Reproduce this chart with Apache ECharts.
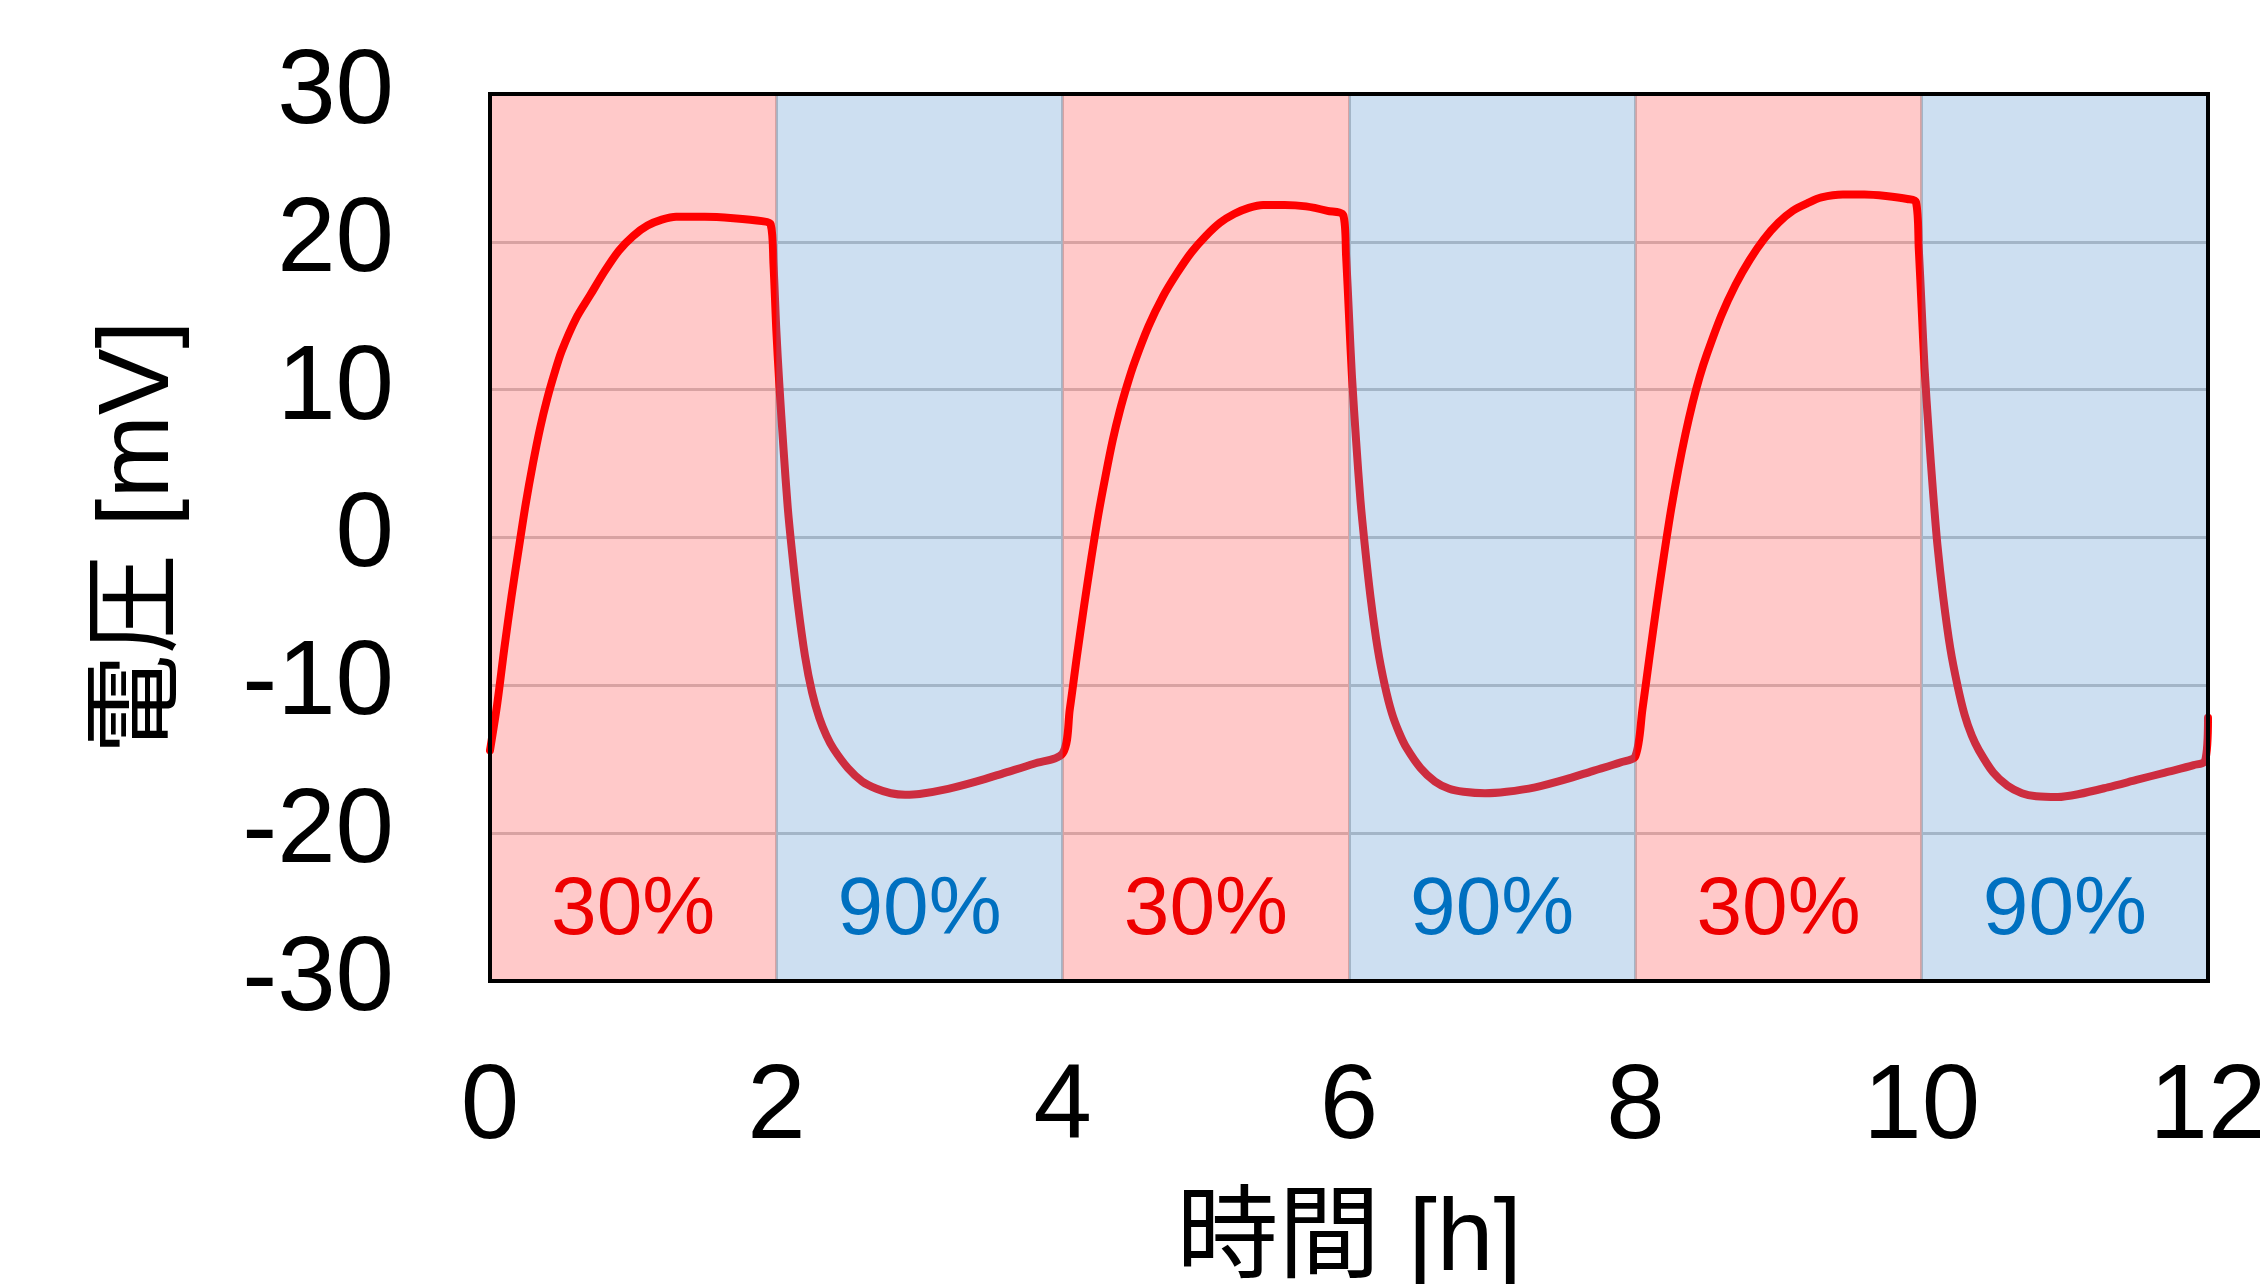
<!DOCTYPE html>
<html>
<head>
<meta charset="utf-8">
<script src="https://cdn.jsdelivr.net/npm/echarts@6/dist/echarts.min.js"></script>
<style>
html,body{margin:0;padding:0;background:#fff;}
#chart{width:2260px;height:1284px;}
</style>
</head>
<body>
<div id="chart"></div>
<script>
// ---- data ----
const timeH = [
  0, 0.05, 0.1, 0.15, 0.2, 0.25, 0.3, 0.35, 0.4, 0.45, 0.5, 0.6, 0.7, 0.8, 0.9, 1.0, 1.1, 1.2, 1.3, 1.5, 1.7, 1.9, 1.96,
  1.98, 2.0, 2.02, 2.05, 2.08, 2.11, 2.15, 2.2, 2.25, 2.3, 2.35, 2.4, 2.5, 2.6, 2.7, 2.8, 2.9, 3.0, 3.2, 3.4, 3.6, 3.8,
  4.0, 4.05, 4.1, 4.15, 4.2, 4.25, 4.3, 4.35, 4.4, 4.45, 4.5, 4.6, 4.7, 4.8, 4.9, 5.0, 5.1, 5.2, 5.3, 5.4, 5.55, 5.7, 5.85, 5.96,
  5.98, 6.0, 6.02, 6.05, 6.08, 6.11, 6.15, 6.2, 6.25, 6.3, 6.35, 6.4, 6.5, 6.6, 6.7, 6.8, 6.95, 7.1, 7.3, 7.5, 7.7, 7.9,
  8.0, 8.05, 8.1, 8.15, 8.2, 8.25, 8.3, 8.35, 8.4, 8.45, 8.5, 8.6, 8.7, 8.8, 8.9, 9.0, 9.1, 9.2, 9.3, 9.45, 9.6, 9.75, 9.9, 9.96,
  9.98, 10.0, 10.02, 10.05, 10.08, 10.11, 10.15, 10.2, 10.25, 10.3, 10.35, 10.4, 10.5, 10.6, 10.7, 10.8, 10.95, 11.1, 11.3, 11.5, 11.7, 11.9, 11.98, 12.0
];
const voltage = [
  -14.4, -11.3, -7.5, -4.0, -0.8, 2.3, 5.0, 7.4, 9.4, 11.1, 12.6, 14.8, 16.4, 18.0, 19.4, 20.4, 21.1, 21.5, 21.7, 21.7, 21.6, 21.4, 21.2,
  18.5, 14.0, 10.5, 6.0, 2.0, -1.0, -4.5, -8.0, -10.5, -12.2, -13.4, -14.3, -15.6, -16.5, -17.0, -17.3, -17.4, -17.35, -17.0, -16.5, -15.9, -15.3,
  -14.6, -11.6, -8.0, -4.6, -1.4, 1.6, 4.2, 6.6, 8.6, 10.3, 11.8, 14.3, 16.3, 17.9, 19.3, 20.4, 21.3, 21.9, 22.3, 22.5, 22.5, 22.4, 22.1, 21.8,
  19.0, 15.0, 11.0, 6.5, 2.5, -0.5, -4.0, -7.5, -10.0, -11.9, -13.2, -14.2, -15.6, -16.5, -17.0, -17.2, -17.3, -17.2, -16.9, -16.4, -15.8, -15.2,
  -14.8, -11.6, -8.0, -4.5, -1.2, 1.9, 4.6, 7.0, 9.1, 10.9, 12.4, 15.0, 17.1, 18.8, 20.2, 21.3, 22.1, 22.6, 23.0, 23.2, 23.2, 23.1, 22.9, 22.7,
  19.5, 15.5, 11.5, 7.0, 3.0, -0.5, -4.0, -7.5, -10.0, -12.0, -13.4, -14.4, -15.9, -16.8, -17.3, -17.5, -17.55, -17.35, -16.9, -16.4, -15.9, -15.4, -15.1, -12.2
];
const bandStart = [0, 2, 4, 6, 8, 10];
const bandEnd = [2, 4, 6, 8, 10, 12];
const bandLabels = ['30%', '90%', '30%', '90%', '30%', '90%'];
const bandLabelY = -25.3;
const xTicks = [0, 2, 4, 6, 8, 10, 12];
const yTicks = [-30, -20, -10, 0, 10, 20, 30];

// ---- styles ----
const LATIN = '"Liberation Sans", Arial, "Noto Sans CJK JP", sans-serif';
const pinkFill = 'rgba(255,100,100,0.35)';
const blueFill = 'rgba(90,150,210,0.30)';
const pinkText = '#EE0000';
const blueText = '#0070C0';

const linePairs = timeH.map((t, i) => [t, voltage[i]]);
const pinkData = [], blueData = [];
bandStart.forEach((s, i) => {
  const row = [s, bandEnd[i], i];
  if (bandLabels[i] === '30%') pinkData.push(row); else blueData.push(row);
});

function bandRenderer(fill, textColor) {
  return function (params, api) {
    const s = api.value(0), e = api.value(1), idx = api.value(2);
    const p0 = api.coord([s, yTicks[yTicks.length - 1]]);
    const p1 = api.coord([e, yTicks[0]]);
    const pc = api.coord([(s + e) / 2, bandLabelY]);
    return {
      type: 'group',
      children: [
        { type: 'rect', shape: { x: p0[0], y: p0[1], width: p1[0] - p0[0], height: p1[1] - p0[1] },
          style: { fill: fill }, silent: true },
        { type: 'text', z2: 10, style: { text: bandLabels[idx], x: pc[0], y: pc[1], fill: textColor,
          font: '82px ' + LATIN, align: 'center', verticalAlign: 'middle' } }
      ]
    };
  };
}

const chart = echarts.init(document.getElementById('chart'), null, { renderer: 'canvas' });
chart.setOption({
  animation: false,
  backgroundColor: '#ffffff',
  grid: { left: 490, right: 52, top: 94, bottom: 303, show: true, borderColor: '#000', borderWidth: 4,
          backgroundColor: 'transparent', z: 10, containLabel: false, outerBoundsMode: 'none' },
  xAxis: {
    type: 'value', min: xTicks[0], max: xTicks[xTicks.length - 1], interval: 2,
    name: '時間 [h]', nameLocation: 'middle', nameGap: 210,
    nameTextStyle: { fontSize: 102, fontFamily: LATIN, color: '#000' },
    axisLine: { show: false }, axisTick: { show: false },
    axisLabel: { fontSize: 105, fontFamily: LATIN, color: '#000', margin: 76 },
    splitLine: { show: true, lineStyle: { color: '#c3c3c3', width: 3 } }
  },
  yAxis: {
    type: 'value', min: yTicks[0], max: yTicks[yTicks.length - 1], interval: 10,
    name: '電圧 [mV]', nameLocation: 'middle', nameGap: 300, nameRotate: 90,
    nameTextStyle: { fontSize: 100, fontFamily: LATIN, color: '#000' },
    axisLine: { show: false }, axisTick: { show: false },
    axisLabel: { fontSize: 105, fontFamily: LATIN, color: '#000', margin: 96 },
    splitLine: { show: true, lineStyle: { color: '#c3c3c3', width: 3 } }
  },
  series: [
    { type: 'custom', name: 'low', z: 1, data: pinkData, encode: { x: [0, 1], y: 2 },
      renderItem: bandRenderer(pinkFill, pinkText), silent: true, clip: false },
    { type: 'line', name: 'voltage', z: 2, data: linePairs, showSymbol: false, symbol: 'none',
      smooth: 0.3,
      lineStyle: { color: '#FF0000', width: 8, join: 'round', cap: 'round' } },
    { type: 'custom', name: 'high', z: 3, data: blueData, encode: { x: [0, 1], y: 2 },
      renderItem: bandRenderer(blueFill, blueText), silent: true, clip: false }
  ]
});
</script>
</body>
</html>
